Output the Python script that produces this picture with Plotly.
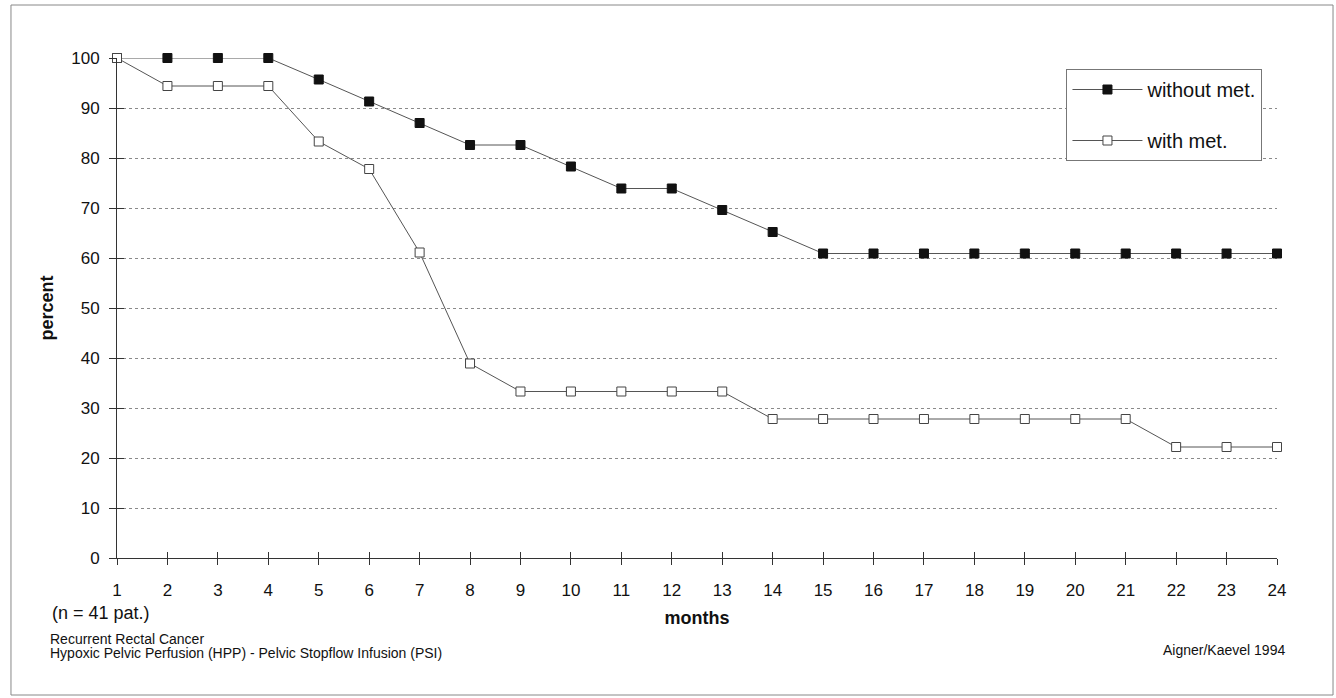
import plotly.graph_objects as go

months = list(range(1, 25))
without_met = [100, 100, 100, 100, 95.7, 91.3, 87.0, 82.6, 82.6, 78.3, 73.9, 73.9,
               69.6, 65.2, 60.9, 60.9, 60.9, 60.9, 60.9, 60.9, 60.9, 60.9, 60.9, 60.9]
with_met = [100, 94.4, 94.4, 94.4, 83.3, 77.8, 61.1, 38.9, 33.3, 33.3, 33.3, 33.3,
            33.3, 27.8, 27.8, 27.8, 27.8, 27.8, 27.8, 27.8, 27.8, 22.2, 22.2, 22.2]
y_ticks = list(range(0, 101, 10))
series_names = ["without met.", "with met."]

FONT = "Liberation Sans, Arial, sans-serif"
LINE = "#555555"

fig = go.Figure()
fig.add_trace(go.Scatter(
    x=months, y=without_met, name=series_names[0], mode="lines+markers",
    line=dict(color=LINE, width=1),
    marker=dict(symbol="square", size=9, color="#111111", line=dict(color="#111111", width=1)),
    cliponaxis=False, legendgroup="a"))
fig.add_trace(go.Scatter(
    x=months, y=with_met, name=series_names[1], mode="lines+markers",
    line=dict(color=LINE, width=1),
    marker=dict(symbol="square", size=9, color="white", line=dict(color="#444444", width=1)),
    cliponaxis=False, legendgroup="b"))
# invisible helper trace for overlay axes (crossing tick marks)
fig.add_trace(go.Scatter(x=months, y=with_met, xaxis="x2", yaxis="y2", mode="markers",
                         marker=dict(opacity=0), showlegend=False, hoverinfo="skip"))

fig.update_layout(
    width=1336, height=698,
    margin=dict(l=117, r=59, t=58, b=140),
    paper_bgcolor="white", plot_bgcolor="white",
    font=dict(family=FONT, color="#111111"),
    showlegend=True,
    legend=dict(x=0.8185, y=0.978, xanchor="left", yanchor="top",
                bordercolor="#777777", borderwidth=1, bgcolor="white",
                font=dict(size=20, family=FONT), tracegroupgap=22,
                itemwidth=70, entrywidth=135, entrywidthmode="pixels"),
    xaxis=dict(range=[1, 24], tickvals=months, ticktext=[str(m) for m in months],
               showgrid=False, zeroline=False, showline=True, linecolor="#333333", linewidth=1,
               ticks="outside", ticklen=6, tickcolor="#333333",
               tickfont=dict(size=17), ticklabelstandoff=11,
               title=dict(text="<b>months</b>", font=dict(size=18), standoff=11)),
    yaxis=dict(range=[0, 100], tickvals=y_ticks,
               showgrid=True, gridcolor="#8a8a8a", griddash="dot", gridwidth=1,
               zeroline=False, showline=True, linecolor="#333333", linewidth=1,
               ticks="outside", ticklen=7, tickcolor="#333333",
               tickfont=dict(size=17), ticklabelstandoff=6,
               title=dict(text="<b>percent</b>", font=dict(size=18), standoff=12)),
    xaxis2=dict(range=[1, 24], tickvals=months, overlaying="x", anchor="y2", side="bottom",
                ticks="inside", ticklen=6, tickcolor="#333333", showticklabels=False,
                showgrid=False, zeroline=False, showline=False),
    yaxis2=dict(range=[0, 100], tickvals=y_ticks, overlaying="y", anchor="x2", side="left",
                ticks="inside", ticklen=7, tickcolor="#333333", showticklabels=False,
                showgrid=False, zeroline=False, showline=False),
)

fig.add_shape(type="rect", xref="paper", yref="paper",
              x0=-0.0914, x1=1.0483, y0=-0.274, y1=1.106,
              line=dict(color="#888888", width=1), fillcolor="rgba(0,0,0,0)", layer="below")

fig.add_annotation(text="(n = 41 pat.)", xref="paper", yref="paper", x=-0.0578, y=-0.11,
                   xanchor="left", yanchor="middle", showarrow=False, font=dict(size=18))
fig.add_annotation(text="Recurrent Rectal Cancer", xref="paper", yref="paper", x=-0.0595, y=-0.162,
                   xanchor="left", yanchor="middle", showarrow=False, font=dict(size=14))
fig.add_annotation(text="Hypoxic Pelvic Perfusion (HPP) - Pelvic Stopflow Infusion (PSI)",
                   xref="paper", yref="paper", x=-0.0595, y=-0.19,
                   xanchor="left", yanchor="middle", showarrow=False, font=dict(size=14))
fig.add_annotation(text="Aigner/Kaevel 1994", xref="paper", yref="paper", x=1.0086, y=-0.184,
                   xanchor="right", yanchor="middle", showarrow=False, font=dict(size=14))

fig.write_html("out.html", config={"displayModeBar": False},
               post_script="document.body.style.margin='0';")
